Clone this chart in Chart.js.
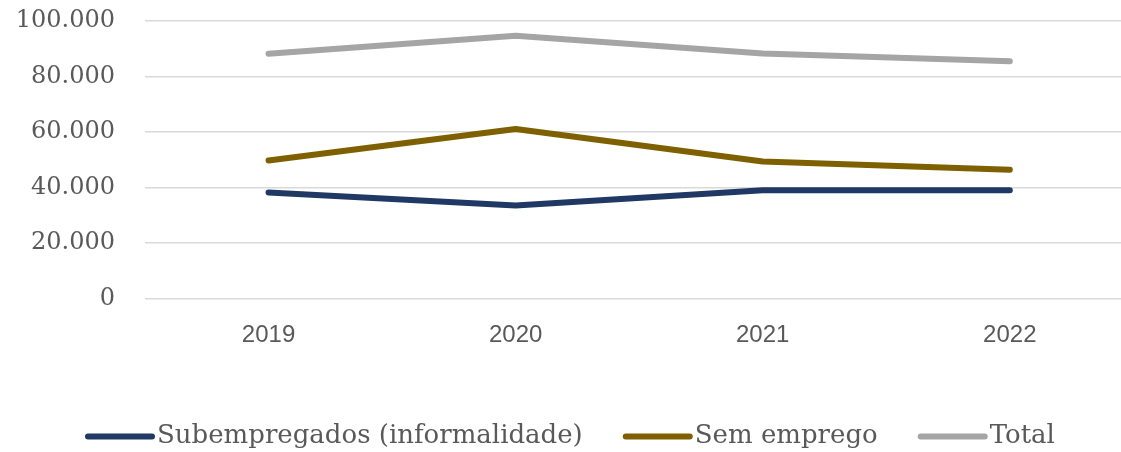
<!DOCTYPE html>
<html>
<head>
<meta charset="utf-8">
<script src="https://cdn.jsdelivr.net/npm/chart.js@4"></script>
<style>
  html, body { margin: 0; padding: 0; background: #ffffff; overflow: hidden; }
  #wrap { width: 1121px; height: 452px; position: relative; }
</style>
</head>
<body>
<div id="wrap"><canvas id="c"></canvas></div>
<script>
const categories = ['2019', '2020', '2021', '2022'];
const subempregados = [38200, 33500, 39000, 39000];
const semEmprego = [49700, 61100, 49400, 46400];
const total = [88200, 94700, 88300, 85500];
const yTicks = [0, 20000, 40000, 60000, 80000, 100000];

const seriesNames = ['Subempregados (informalidade)', 'Sem emprego', 'Total'];
const seriesColors = ['#203864', '#7F6000', '#A5A5A5'];
const seriesValues = [subempregados, semEmprego, total];

function fmt(v) {
  return String(v).replace(/\B(?=(\d{3})+(?!\d))/g, '.');
}

const datasets = seriesValues.map((vals, k) => ({
  label: seriesNames[k],
  data: vals.map((v, i) => ({ x: i, y: v })),
  borderColor: seriesColors[k],
  backgroundColor: seriesColors[k],
  borderWidth: 6,
  borderCapStyle: 'round',
  borderJoinStyle: 'round',
  pointRadius: 0,
  pointHoverRadius: 0,
  tension: 0,
  fill: false
}));

const legendPlugin = {
  id: 'customLegend',
  afterDraw(chart) {
    const ctx = chart.ctx;
    ctx.save();
    ctx.font = '26px "DejaVu Serif"';
    ctx.textBaseline = 'middle';
    const y = 436.5;
    let x = 88;
    const lineLen = 64;
    chart.data.datasets.forEach((ds) => {
      ctx.beginPath();
      ctx.lineWidth = 6;
      ctx.lineCap = 'round';
      ctx.strokeStyle = ds.borderColor;
      ctx.moveTo(x, y);
      ctx.lineTo(x + lineLen, y);
      ctx.stroke();
      const tx = x + lineLen + 5;
      ctx.fillStyle = '#595959';
      ctx.fillText(ds.label, tx, y);
      const w = ctx.measureText(ds.label).width;
      x = tx + w + 43;
    });
    ctx.restore();
  }
};

new Chart(document.getElementById('c'), {
  type: 'line',
  data: { datasets },
  plugins: [legendPlugin],
  options: {
    responsive: true,
    maintainAspectRatio: false,
    animation: false,
    layout: { padding: { top: 21, left: 0, right: 0, bottom: 0 } },
    plugins: {
      legend: { display: false },
      tooltip: { enabled: false }
    },
    scales: {
      x: {
        type: 'linear',
        min: -0.5,
        max: 3.45,
        afterBuildTicks(scale) {
          scale.ticks = categories.map((c, i) => ({ value: i }));
        },
        afterFit(scale) {
          scale.height = 452 - 298.5;
          scale.paddingLeft = 0;
          scale.paddingRight = 0;
        },
        grid: { display: false, drawTicks: false },
        border: { display: false },
        ticks: {
          padding: 22,
          color: '#595959',
          font: { family: '"Liberation Sans", Arial, sans-serif', size: 24 },
          callback: (v) => categories[v] !== undefined ? categories[v] : ''
        }
      },
      y: {
        min: 0,
        max: 100000,
        afterBuildTicks(scale) {
          scale.ticks = yTicks.map(v => ({ value: v }));
        },
        afterFit(scale) {
          scale.width = 145;
          scale.paddingTop = 0;
          scale.paddingBottom = 0;
        },
        grid: { color: '#D9D9D9', lineWidth: 1.5, drawTicks: false },
        border: { display: false },
        ticks: {
          padding: 30,
          color: '#595959',
          font: { family: '"DejaVu Serif", serif', size: 24 },
          callback: (v) => fmt(v)
        }
      }
    }
  }
});
</script>
</body>
</html>
